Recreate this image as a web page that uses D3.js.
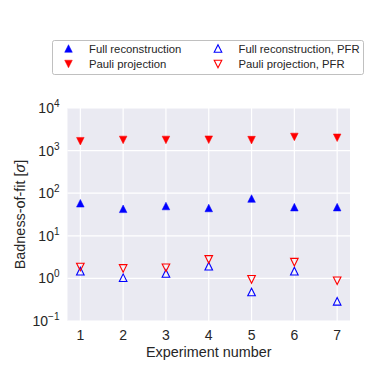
<!DOCTYPE html>
<html>
<head>
<meta charset="utf-8">
<script src="https://cdn.jsdelivr.net/npm/d3@7"></script>
<style>
  body { margin: 0; background: #fff; }
  svg text { font-family: "Liberation Sans", Arial, sans-serif; fill: #262626; }
</style>
</head>
<body>
<div id="chart"></div>
<script>
const experiments = [1, 2, 3, 4, 5, 6, 7];
const fullRecon = [58, 43, 50, 45, 75, 47, 47];
const pauliProj = [1660, 1780, 1780, 1800, 1760, 2090, 2000];
const fullReconPFR = [1.48, 1.04, 1.31, 1.94, 0.48, 1.48, 0.29];
const pauliProjPFR = [1.85, 1.71, 1.78, 2.79, 0.95, 2.41, 0.88];
const yTickExps = [-1, 0, 1, 2, 3, 4];

const width = 374, height = 374;
const margin = { top: 108, right: 24, bottom: 53, left: 67.5 };

const svg = d3.select("#chart").append("svg")
    .attr("width", width)
    .attr("height", height);

const x = d3.scaleLinear()
    .domain([0.7, 7.3])
    .range([margin.left, width - margin.right]);

const y = d3.scaleLog()
    .domain([0.1, 10000])
    .range([height - margin.bottom, margin.top]);

// background
svg.append("rect")
    .attr("x", margin.left)
    .attr("y", margin.top)
    .attr("width", width - margin.right - margin.left)
    .attr("height", height - margin.bottom - margin.top)
    .attr("fill", "#EAEAF2");

// grid
svg.append("g")
    .selectAll("line")
    .data(yTickExps)
    .enter().append("line")
    .attr("x1", margin.left)
    .attr("x2", width - margin.right)
    .attr("y1", d => y(Math.pow(10, d)))
    .attr("y2", d => y(Math.pow(10, d)))
    .attr("stroke", "#fff")
    .attr("stroke-width", 1.2);

svg.append("g")
    .selectAll("line")
    .data(experiments)
    .enter().append("line")
    .attr("x1", d => x(d))
    .attr("x2", d => x(d))
    .attr("y1", margin.top)
    .attr("y2", height - margin.bottom)
    .attr("stroke", "#fff")
    .attr("stroke-width", 1.2);

// tick labels
svg.append("g")
    .selectAll("text")
    .data(experiments)
    .enter().append("text")
    .attr("x", d => x(d))
    .attr("y", height - margin.bottom + 18.5)
    .attr("text-anchor", "middle")
    .attr("font-size", 14)
    .text(d => d);

const yl = svg.append("g")
    .selectAll("text")
    .data(yTickExps)
    .enter().append("text")
    .attr("x", margin.left - 8)
    .attr("y", d => y(Math.pow(10, d)) + 5)
    .attr("text-anchor", "end")
    .attr("font-size", 14);
yl.append("tspan").text("10");
yl.append("tspan")
    .attr("dy", -6)
    .attr("font-size", 10)
    .text(d => d < 0 ? "\u2212" + (-d) : d);

// axis labels
svg.append("text")
    .attr("x", (margin.left + width - margin.right) / 2)
    .attr("y", 357)
    .attr("text-anchor", "middle")
    .attr("font-size", 14.4)
    .text("Experiment number");

const ylab = svg.append("text")
    .attr("transform", `translate(25,${(margin.top + height - margin.bottom) / 2}) rotate(-90)`)
    .attr("text-anchor", "middle")
    .attr("font-size", 14.4);
ylab.append("tspan").text("Badness-of-fit [");
ylab.append("tspan").attr("font-style", "italic").text("\u03c3");
ylab.append("tspan").text("]");

// markers
const r = 3.8;
const triUp = `M0,${-r}L${r},${r}L${-r},${r}Z`;
const triDown = `M0,${r}L${r},${-r}L${-r},${-r}Z`;

function drawSeries(values, path, color, filled) {
    svg.append("g")
        .selectAll("path")
        .data(values)
        .enter().append("path")
        .attr("d", path)
        .attr("transform", (d, i) => `translate(${x(experiments[i])},${y(d)})`)
        .attr("fill", filled ? color : "none")
        .attr("stroke", color)
        .attr("stroke-width", filled ? 0.5 : 1.1);
}

drawSeries(fullRecon, triUp, "#0000ff", true);
drawSeries(pauliProj, triDown, "#ff0000", true);
drawSeries(fullReconPFR, triUp, "#0000ff", false);
drawSeries(pauliProjPFR, triDown, "#ff0000", false);

// legend
const legend = svg.append("g");
legend.append("rect")
    .attr("x", 52.5)
    .attr("y", 40.5)
    .attr("width", 311)
    .attr("height", 34)
    .attr("rx", 2)
    .attr("fill", "#fff")
    .attr("stroke", "#b0b0b0")
    .attr("stroke-width", 0.8);

const legendItems = [
    { label: "Full reconstruction", path: triUp, color: "#0000ff", filled: true, col: 0, row: 0 },
    { label: "Pauli projection", path: triDown, color: "#ff0000", filled: true, col: 0, row: 1 },
    { label: "Full reconstruction, PFR", path: triUp, color: "#0000ff", filled: false, col: 1, row: 0 },
    { label: "Pauli projection, PFR", path: triDown, color: "#ff0000", filled: false, col: 1, row: 1 }
];

const li = legend.selectAll("g.item")
    .data(legendItems)
    .enter().append("g")
    .attr("class", "item")
    .attr("transform", d => `translate(${d.col ? 218 : 68.5},${d.row ? 64 : 48.5})`);

li.append("path")
    .attr("d", d => d.path)
    .attr("fill", d => d.filled ? d.color : "none")
    .attr("stroke", d => d.color)
    .attr("stroke-width", d => d.filled ? 0.5 : 1.1);

li.append("text")
    .attr("x", 20.5)
    .attr("y", 4)
    .attr("font-size", 11.3)
    .text(d => d.label);
</script>
</body>
</html>
